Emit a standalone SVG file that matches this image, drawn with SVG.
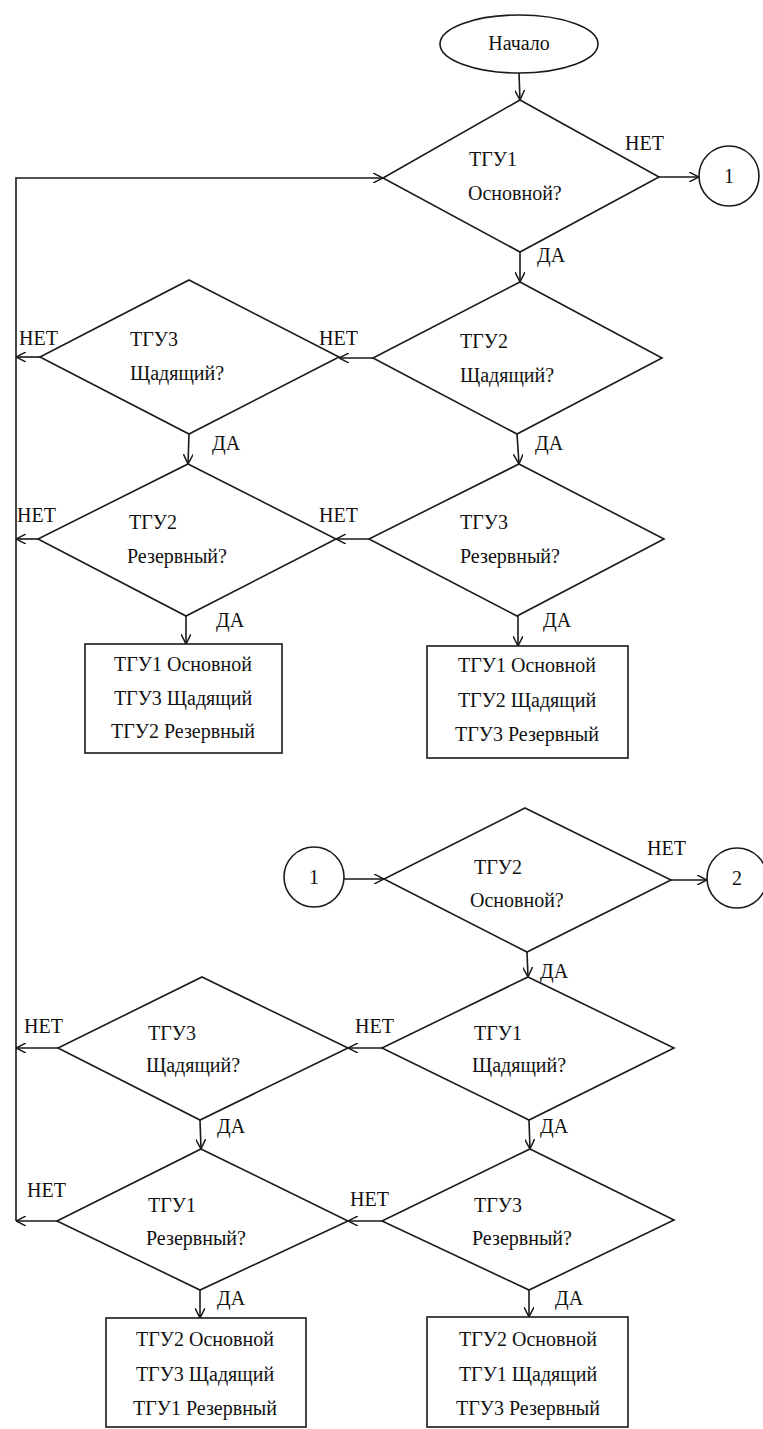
<svg xmlns="http://www.w3.org/2000/svg" width="763" height="1429" viewBox="0 0 763 1429" font-family="'Liberation Serif', 'DejaVu Serif', serif" font-size="20">
<defs>
<marker id="arr" viewBox="0 0 10 10" refX="10" refY="5" markerWidth="10" markerHeight="10" markerUnits="userSpaceOnUse" orient="auto">
<path d="M0,0 L10,5 L0,10" fill="none" stroke="#1a1a1a" stroke-width="1.5"/>
</marker>
</defs>
<style>
.s{fill:#fff;stroke:#1a1a1a;stroke-width:1.6}
.c{fill:none;stroke:#1a1a1a;stroke-width:1.6;marker-end:url(#arr)}
text{font-family:'Liberation Serif','DejaVu Serif',serif;font-size:20px;fill:#111}
.m{text-anchor:middle}
</style>
<rect width="763" height="1429" fill="#fff"/>
<g id="connectors">
<path class="c" d="M519,73 L520,100"/>
<path class="c" d="M659,177 L699,177"/>
<path class="c" d="M16,1221 L16,178 L383,178"/>
<path class="c" d="M520,252 L520,282"/>
<path class="c" d="M373,358 L339,358"/>
<path class="c" d="M40,357 L16,357"/>
<path class="c" d="M189,434 L188,464"/>
<path class="c" d="M517,434 L519,464"/>
<path class="c" d="M369,539 L336,539"/>
<path class="c" d="M38,539 L16,539"/>
<path class="c" d="M186,616 L186,644"/>
<path class="c" d="M518,616 L518,646"/>
<path class="c" d="M344,879 L384,879"/>
<path class="c" d="M671,880 L707,880"/>
<path class="c" d="M527,952 L528,977"/>
<path class="c" d="M382,1048 L348,1048"/>
<path class="c" d="M58,1048 L16,1048"/>
<path class="c" d="M200,1120 L201,1149"/>
<path class="c" d="M529,1120 L530,1149"/>
<path class="c" d="M382,1221 L348,1221"/>
<path class="c" d="M57,1221 L16,1221"/>
<path class="c" d="M200,1290 L200,1318"/>
<path class="c" d="M529,1290 L529,1317"/>
<text x="625" y="150">НЕТ</text>
<text x="537" y="262">ДА</text>
<text x="319" y="345">НЕТ</text>
<text x="19" y="345">НЕТ</text>
<text x="535" y="450">ДА</text>
<text x="212" y="450">ДА</text>
<text x="319" y="522">НЕТ</text>
<text x="17" y="522">НЕТ</text>
<text x="216" y="627">ДА</text>
<text x="543" y="627">ДА</text>
<text x="647" y="855">НЕТ</text>
<text x="540" y="978">ДА</text>
<text x="355" y="1033">НЕТ</text>
<text x="24" y="1033">НЕТ</text>
<text x="217" y="1133">ДА</text>
<text x="540" y="1133">ДА</text>
<text x="350" y="1206">НЕТ</text>
<text x="27" y="1197">НЕТ</text>
<text x="217" y="1305">ДА</text>
<text x="555" y="1305">ДА</text>
</g>
<g id="start">
<ellipse class="s" cx="519" cy="44" rx="79" ry="29"/>
<text class="m" x="519" y="50">Начало</text>
</g>
<g id="d1">
<polygon class="s" points="520,100 659,177 520,252 383,178"/>
<text x="469" y="166">ТГУ1</text>
<text x="468" y="200">Основной?</text>
</g>
<g id="conn1a">
<circle class="s" cx="729" cy="176" r="30"/>
<text class="m" x="729" y="183">1</text>
</g>
<g id="d2">
<polygon class="s" points="520,282 662,358 517,434 373,358"/>
<text x="460" y="348">ТГУ2</text>
<text x="460" y="382">Щадящий?</text>
</g>
<g id="d3">
<polygon class="s" points="189,280 339,357 189,434 40,357"/>
<text x="130" y="346">ТГУ3</text>
<text x="130" y="380">Щадящий?</text>
</g>
<g id="d4">
<polygon class="s" points="188,464 336,539 186,616 38,539"/>
<text x="129" y="529">ТГУ2</text>
<text x="127" y="563">Резервный?</text>
</g>
<g id="d5">
<polygon class="s" points="519,464 664,539 517,616 369,539"/>
<text x="460" y="529">ТГУ3</text>
<text x="460" y="563">Резервный?</text>
</g>
<g id="box1">
<rect class="s" x="85" y="644" width="197" height="109"/>
<text class="m" x="183" y="671">ТГУ1 Основной</text>
<text class="m" x="183" y="705">ТГУ3 Щадящий</text>
<text class="m" x="183" y="738">ТГУ2 Резервный</text>
</g>
<g id="box2">
<rect class="s" x="427" y="646" width="201" height="112"/>
<text class="m" x="527" y="672">ТГУ1 Основной</text>
<text class="m" x="527" y="707">ТГУ2 Щадящий</text>
<text class="m" x="527" y="741">ТГУ3 Резервный</text>
</g>
<g id="conn1b">
<circle class="s" cx="314" cy="877" r="30"/>
<text class="m" x="314" y="884">1</text>
</g>
<g id="d6">
<polygon class="s" points="525,808 671,880 527,952 384,879"/>
<text x="474" y="874">ТГУ2</text>
<text x="470" y="907">Основной?</text>
</g>
<g id="conn2">
<circle class="s" cx="737" cy="878" r="30"/>
<text class="m" x="737" y="885">2</text>
</g>
<g id="d7">
<polygon class="s" points="528,977 674,1048 529,1120 382,1048"/>
<text x="474" y="1040">ТГУ1</text>
<text x="472" y="1072">Щадящий?</text>
</g>
<g id="d8">
<polygon class="s" points="202,977 348,1048 200,1120 58,1048"/>
<text x="148" y="1040">ТГУ3</text>
<text x="146" y="1072">Щадящий?</text>
</g>
<g id="d9">
<polygon class="s" points="201,1149 348,1221 200,1290 57,1221"/>
<text x="148" y="1212">ТГУ1</text>
<text x="146" y="1245">Резервный?</text>
</g>
<g id="d10">
<polygon class="s" points="530,1149 674,1220 529,1290 382,1221"/>
<text x="474" y="1212">ТГУ3</text>
<text x="472" y="1245">Резервный?</text>
</g>
<g id="box3">
<rect class="s" x="106" y="1318" width="200" height="109"/>
<text class="m" x="205" y="1346">ТГУ2 Основной</text>
<text class="m" x="205" y="1381">ТГУ3 Щадящий</text>
<text class="m" x="205" y="1415">ТГУ1 Резервный</text>
</g>
<g id="box4">
<rect class="s" x="427" y="1317" width="201" height="110"/>
<text class="m" x="528" y="1346">ТГУ2 Основной</text>
<text class="m" x="528" y="1381">ТГУ1 Щадящий</text>
<text class="m" x="528" y="1415">ТГУ3 Резервный</text>
</g>
</svg>
